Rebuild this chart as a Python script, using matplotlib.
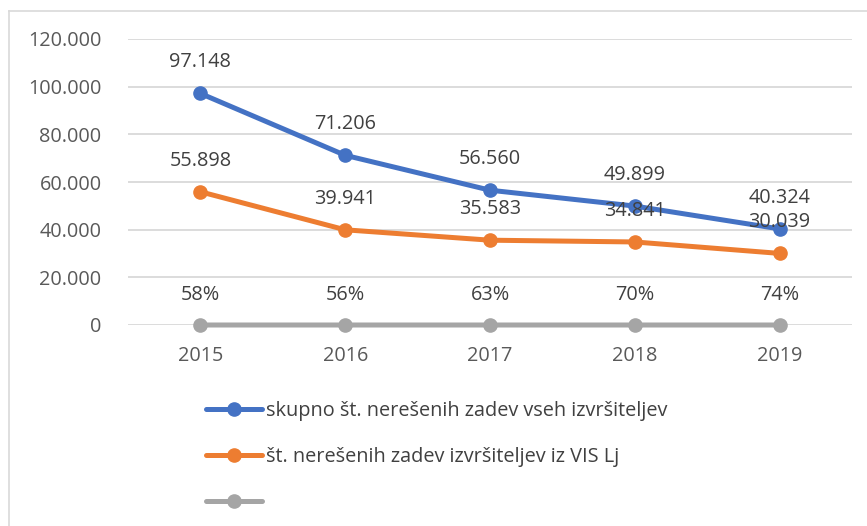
import matplotlib.pyplot as plt
from matplotlib.lines import Line2D

years = ['2015', '2016', '2017', '2018', '2019']
total_cases = [97148, 71206, 56560, 49899, 40324]
vis_lj_cases = [55898, 39941, 35583, 34841, 30039]
share = [0.58, 0.56, 0.63, 0.70, 0.74]
labels = ['skupno št. nerešenih zadev vseh izvršiteljev',
          'št. nerešenih zadev izvršiteljev iz VIS Lj',
          '']
y_ticks = [0, 20000, 40000, 60000, 80000, 100000, 120000]

plt.rcParams['font.family'] = ['Open Sans', 'DejaVu Sans']
FS = 14.3

W, H = 867, 526
fig = plt.figure(figsize=(W / 100, H / 100), dpi=100)
ax = fig.add_axes([128 / W, 1 - 325 / H, (852 - 128) / W, (325 - 39) / H])

x = range(len(years))
colors = ['#4472C4', '#ED7D31', '#A5A5A5']
series = [total_cases, vis_lj_cases, share]
handles = []
for vals, c in zip(series, colors):
    h, = ax.plot(x, vals, color=c, lw=3.6, marker='o', ms=9.5, zorder=3,
                 solid_capstyle='round', clip_on=False)
    handles.append(h)

def fmt_num(v):
    return f'{v:,}'.replace(',', '.')

for vals in (total_cases, vis_lj_cases):
    for i, v in enumerate(vals):
        ax.annotate(fmt_num(v), (i, v), xytext=(0, 22.5), textcoords='offset points',
                    ha='center', va='center', fontsize=FS, color='#404040', zorder=5)
for i, v in enumerate(share):
    ax.annotate(f'{v:.0%}', (i, v), xytext=(0, 21.5), textcoords='offset points',
                ha='center', va='center', fontsize=FS, color='#404040', zorder=5)

ax.set_xlim(-0.5, len(years) - 0.5)
ax.set_ylim(0, 120000)
ax.set_yticks(y_ticks)
ax.set_yticklabels([fmt_num(t) for t in y_ticks])
ax.set_xticks(list(x))
ax.set_xticklabels(years)
ax.tick_params(axis='both', length=0, labelsize=FS, colors='#595959')
ax.tick_params(axis='y', pad=19)
ax.tick_params(axis='x', pad=15)
ax.grid(axis='y', color='#D9D9D9', lw=1.3)
ax.set_axisbelow(True)
for s in ax.spines.values():
    s.set_visible(False)

fig.legend(handles, labels, loc='upper left', bbox_to_anchor=(206 / W, 1 - 401 / H),
           frameon=False, fontsize=FS, labelcolor='#404040', handlelength=2.8,
           handletextpad=0.2, labelspacing=1.3, borderaxespad=0, borderpad=0)

fig.add_artist(Line2D([8.5 / W, 1], [1 - 10.5 / H, 1 - 10.5 / H], color='#D9D9D9', lw=1.2))
fig.add_artist(Line2D([8.5 / W, 8.5 / W], [0, 1 - 10.5 / H], color='#D9D9D9', lw=1.2))

fig.savefig('out.png', dpi=100)
